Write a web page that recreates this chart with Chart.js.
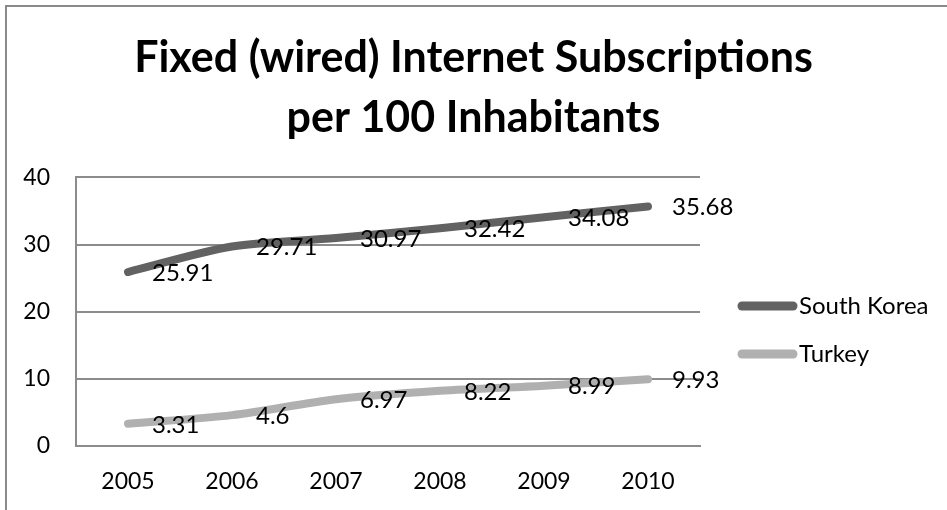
<!DOCTYPE html>
<html>
<head>
<meta charset="utf-8">
<title>Fixed (wired) Internet Subscriptions per 100 Inhabitants</title>
<script src="https://cdn.jsdelivr.net/npm/chart.js@4.4.1/dist/chart.umd.min.js"></script>
<style>
  html, body { margin: 0; padding: 0; background: #fff; overflow: hidden; }
  #wrap { position: relative; width: 947px; height: 510px; }
  #marco { position: absolute; left: 5px; top: 5px; width: 1200px; height: 800px;
           border-left: 2px solid #8a8a8a; border-top: 2px solid #8a8a8a; }
  #grafico { position: absolute; left: 0; top: 0; }
</style>
</head>
<body>
<div id="wrap">
  <div id="marco"></div>
  <canvas id="grafico" width="947" height="510"></canvas>
</div>
<script>
const anios = ['2005', '2006', '2007', '2008', '2009', '2010'];
const coreaDelSur = [25.91, 29.71, 30.97, 32.42, 34.08, 35.68];
const turquia = [3.31, 4.6, 6.97, 8.22, 8.99, 9.93];
const ticksY = [0, 10, 20, 30, 40];

const fuente = 'Lato, "Open Sans", sans-serif';

// Etiquetas de valor a la derecha de cada punto
const etiquetasValor = {
    id: 'etiquetasValor',
    afterDatasetsDraw(chart) {
        const ctx = chart.ctx;
        ctx.save();
        ctx.font = '24px ' + fuente;
        ctx.fillStyle = '#000';
        ctx.textAlign = 'left';
        ctx.textBaseline = 'middle';
        chart.data.datasets.forEach((ds, i) => {
            chart.getDatasetMeta(i).data.forEach((p, j) => {
                ctx.fillText(String(ds.data[j]), p.x + 24, p.y + 1);
            });
        });
        ctx.restore();
    }
};

// Leyenda a la derecha del área de la gráfica
const leyenda = {
    id: 'leyenda',
    afterDraw(chart) {
        const ctx = chart.ctx;
        const x0 = chart.chartArea.right + 38;
        const filas = [306, 354];
        ctx.save();
        chart.data.datasets.forEach((ds, i) => {
            const y = filas[i];
            ctx.strokeStyle = ds.borderColor;
            ctx.lineWidth = 9;
            ctx.lineCap = 'round';
            ctx.beginPath();
            ctx.moveTo(x0 + 4, y);
            ctx.lineTo(x0 + 55, y);
            ctx.stroke();
            ctx.font = '24px ' + fuente;
            ctx.fillStyle = '#000';
            ctx.textAlign = 'left';
            ctx.textBaseline = 'middle';
            ctx.fillText(ds.label, x0 + 61, y);
        });
        ctx.restore();
    }
};

const config = {
    type: 'line',
    data: {
        labels: anios,
        datasets: [{
            label: 'South Korea',
            data: coreaDelSur,
            borderColor: '#626262',
            borderWidth: 8,
            borderCapStyle: 'round',
            tension: 0.3,
            pointRadius: 0,
            fill: false
        }, {
            label: 'Turkey',
            data: turquia,
            borderColor: '#b0b0b0',
            borderWidth: 8,
            borderCapStyle: 'round',
            tension: 0.3,
            pointRadius: 0,
            fill: false
        }]
    },
    options: {
        responsive: false,
        animation: false,
        layout: { padding: 0 },
        plugins: {
            legend: { display: false },
            tooltip: { enabled: false },
            title: {
                display: true,
                text: ['Fixed (wired) Internet Subscriptions', 'per 100 Inhabitants'],
                color: '#000',
                font: { family: fuente, size: 43, weight: 'bold', lineHeight: 1.4 },
                padding: { top: 28, bottom: 29 }
            }
        },
        scales: {
            x: {
                offset: true,
                grid: { display: false, drawTicks: false },
                border: { display: true, color: '#8c8c8c', width: 2 },
                ticks: { color: '#000', font: { family: fuente, size: 23 }, padding: 22 },
                afterFit(scale) { scale.height = 64; }
            },
            y: {
                min: 0,
                max: 40,
                afterBuildTicks(scale) { scale.ticks = ticksY.map(v => ({ value: v })); },
                grid: { color: '#8c8c8c', lineWidth: 2, drawTicks: false },
                border: { display: true, color: '#8c8c8c', width: 2 },
                ticks: { color: '#000', font: { family: fuente, size: 23 }, padding: 26 },
                afterFit(scale) { scale.width = 76; }
            },
            espacioLeyenda: {
                type: 'linear',
                position: 'right',
                grid: { display: false, drawTicks: false },
                border: { display: false },
                ticks: { display: false },
                afterFit(scale) { scale.width = 247; }
            }
        }
    },
    plugins: [etiquetasValor, leyenda]
};

new Chart(document.getElementById('grafico'), config);
</script>
</body>
</html>
